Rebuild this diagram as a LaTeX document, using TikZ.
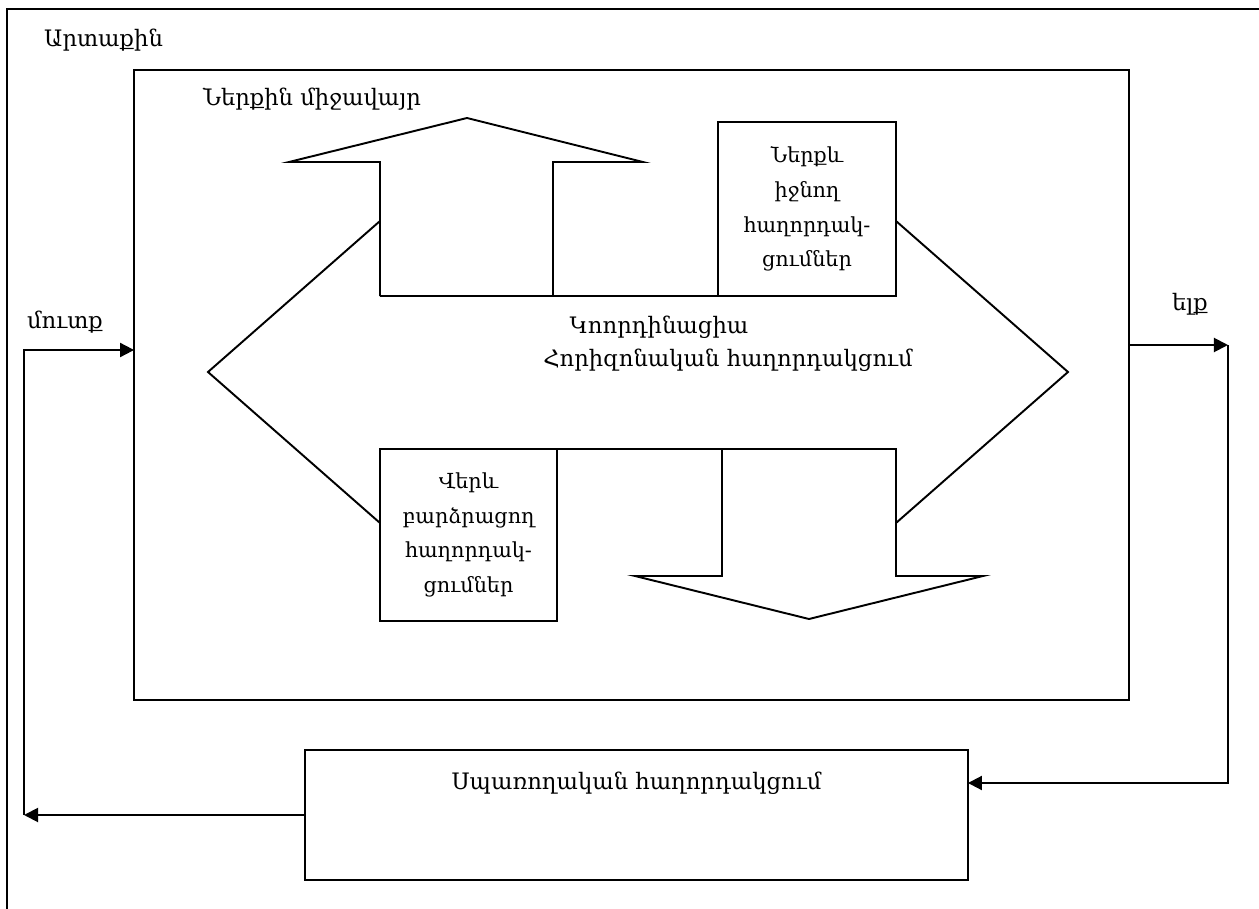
\documentclass[tikz,border=0pt]{standalone}
\usepackage{fontspec}
\setmainfont{DejaVu Serif}
\usetikzlibrary{arrows.meta, positioning, calc}

\begin{document}
\begin{tikzpicture}[
  x=0.02cm, y=-0.02cm,
  every node/.style={font=\fontsize{12.9}{16}\selectfont},
  line/.style={line width=1.1pt},
  box/.style={rectangle, draw, line width=1.1pt, align=center, inner sep=0pt,
              outer sep=0pt, font=\fontsize{11.8}{19.8}\selectfont},
  arrow/.style={line width=1.1pt, -{Triangle[length=8pt, width=8pt]}}
]
  \useasboundingbox (0,0) rectangle (1259,909);
  \clip (0,0) rectangle (1259,909);

  % outer frame, runs off the page on the right and bottom
  \draw[line] (7,9) rectangle (1275,925);
  \node[anchor=west] (outlbl) at (38,40) {Արտաքին};

  \node[box, minimum width=19.9cm, minimum height=12.6cm] (inner) at (631.5,385) {};
  \node (innlbl) at (312,99) {Ներքին միջավայր};

  \node[box, minimum width=3.56cm, minimum height=3.48cm] (downbox) at (807,209)
    {Ներքև\\իջնող\\հաղորդակ-\\ցումներ};
  \node[box, minimum width=3.54cm, minimum height=3.44cm] (upbox) at (468.5,535)
    {Վերև\\բարձրացող\\հաղորդակ-\\ցումներ};

  % block arrows and the two side wedges
  \draw[line] (380,296) -- (380,162) -- (289,162) -- (467,118) -- (643,162)
    -- (553,162) -- (553,296);
  \draw[line] (380,296) -- (downbox.south west);
  \draw[line] (upbox.north east) -- (896,449) -- (896,576) -- (983,576)
    -- (809,619) -- (635,576) -- (722,576) -- (722,449);
  \draw[line] (380,221) -- (208,372) -- (380,523);
  \draw[line] (896,221) -- (1068,372) -- (896,523);

  \node (coord) at (659,327) {Կոորդինացիա};
  \node (horiz) at (728,360) {Հորիզոնական հաղորդակցում};

  \node[box, minimum width=13.26cm, minimum height=2.6cm] (feed) at (636.5,815) {};
  \node (feedlbl) at (636.5,783) {Սպառողական հաղորդակցում};

  % input and output loops
  \coordinate (inL) at (24,350);
  \coordinate (fbL) at (24,815);
  \coordinate (outR) at (1228,345);
  \coordinate (fbR) at (1228,783);
  \node (inlbl) at (65,322) {մուտք};
  \node (outlbl2) at (1190,304) {ելք};

  \draw[arrow] (feed.west) -- (fbL);
  \draw[arrow] (fbL) -- (inL) -- (inL -| inner.west);
  \draw[arrow] (outR -| inner.east) -- (outR);
  \draw[arrow] (outR) -- (fbR) -- (fbR -| feed.east);
\end{tikzpicture}
\end{document}
